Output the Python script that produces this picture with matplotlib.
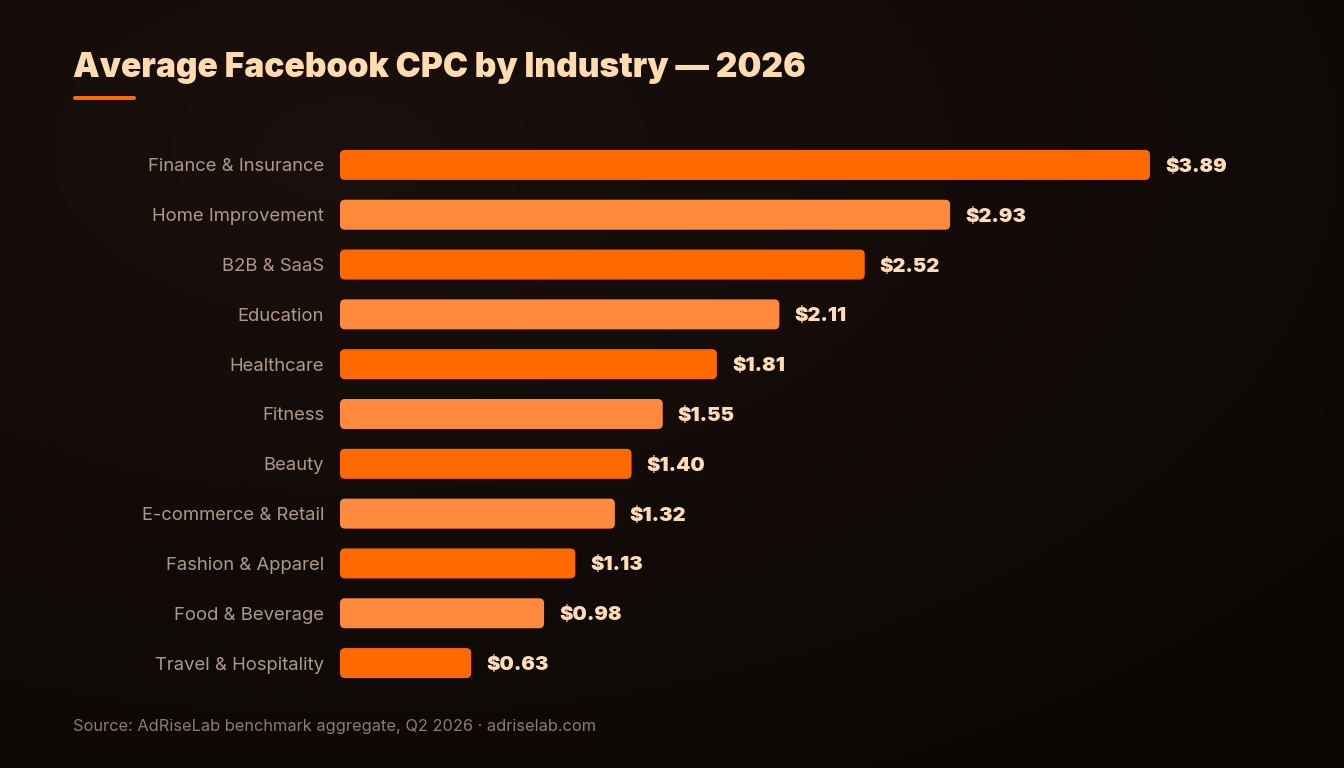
import numpy as np
import matplotlib.pyplot as plt
from matplotlib.patches import FancyBboxPatch

industries = ["Finance & Insurance", "Home Improvement", "B2B & SaaS", "Education",
              "Healthcare", "Fitness", "Beauty", "E-commerce & Retail",
              "Fashion & Apparel", "Food & Beverage", "Travel & Hospitality"]
cpc = [3.89, 2.93, 2.52, 2.11, 1.81, 1.55, 1.40, 1.32, 1.13, 0.98, 0.63]

W, H = 1344, 768
fig = plt.figure(figsize=(W / 100, H / 100), dpi=100)

# background with soft radial glow top-left
bg = fig.add_axes([0, 0, 1, 1], zorder=-10)
yy, xx = np.mgrid[0:H, 0:W]
d = np.sqrt(((xx - 350) / W) ** 2 + ((yy - 150) / H) ** 2)
t = np.clip(d / 1.0, 0, 1)
c0 = np.array([0x1a, 0x10, 0x0d]) / 255
c1 = np.array([0x0b, 0x07, 0x05]) / 255
img = c0[None, None, :] * (1 - t[..., None]) + c1[None, None, :] * t[..., None]
bg.imshow(img, aspect='auto', extent=[0, 1, 0, 1])
bg.axis('off')

# main axes in pixel geometry
left, right = 340, 1240
top, bottom = 140, 688
ax = fig.add_axes([left / W, 1 - bottom / H, (right - left) / W, (bottom - top) / H])
ax.set_facecolor('none')
px_per_unit = 810 / 3.89
xmax = (right - left) / px_per_unit
ax.set_xlim(0, xmax)
ax.set_ylim(len(cpc) - 0.5, -0.5)
ax.axis('off')

ypx = (bottom - top) / len(cpc)
aspect = (1 / ypx) / (1 / px_per_unit)
bh = 30 / ypx
for i, (name, v) in enumerate(zip(industries, cpc)):
    col = '#ff6a00' if i % 2 == 0 else '#ff8a3d'
    p = FancyBboxPatch((0, i - bh / 2), v, bh,
                       boxstyle="round,pad=0,rounding_size=0.024",
                       mutation_aspect=aspect, fc=col, ec='none')
    ax.add_patch(p)
    ax.text(v + 15 / px_per_unit, i, f"${v:.2f}", va='center_baseline', ha='left',
            fontsize=14.5, fontweight='black', color='#ffdcb5', family='Inter')
    ax.text(-16 / px_per_unit, i, name, va='center_baseline', ha='right',
            fontsize=13.3, color='#b09888', family='Inter', clip_on=False)

fig.text(73 / W, 1 - 68 / H, "Average Facebook CPC by Industry — 2026",
         fontsize=24.2, fontweight='black', color='#ffdcb0', family='Inter',
         va='center', ha='left')
acc = FancyBboxPatch((73 / W, 1 - 100 / H), 63 / W, 4 / H,
                     boxstyle="round,pad=0,rounding_size=0.0015",
                     mutation_aspect=W / H, transform=fig.transFigure,
                     fc='#ff6a00', ec='none')
fig.patches.append(acc)

fig.text(73 / W, 1 - 726 / H, "Source: AdRiseLab benchmark aggregate, Q2 2026 · adriselab.com",
         fontsize=11.8, color='#8d7b70', family='Inter', va='center', ha='left')

fig.savefig('out.png', dpi=100)
